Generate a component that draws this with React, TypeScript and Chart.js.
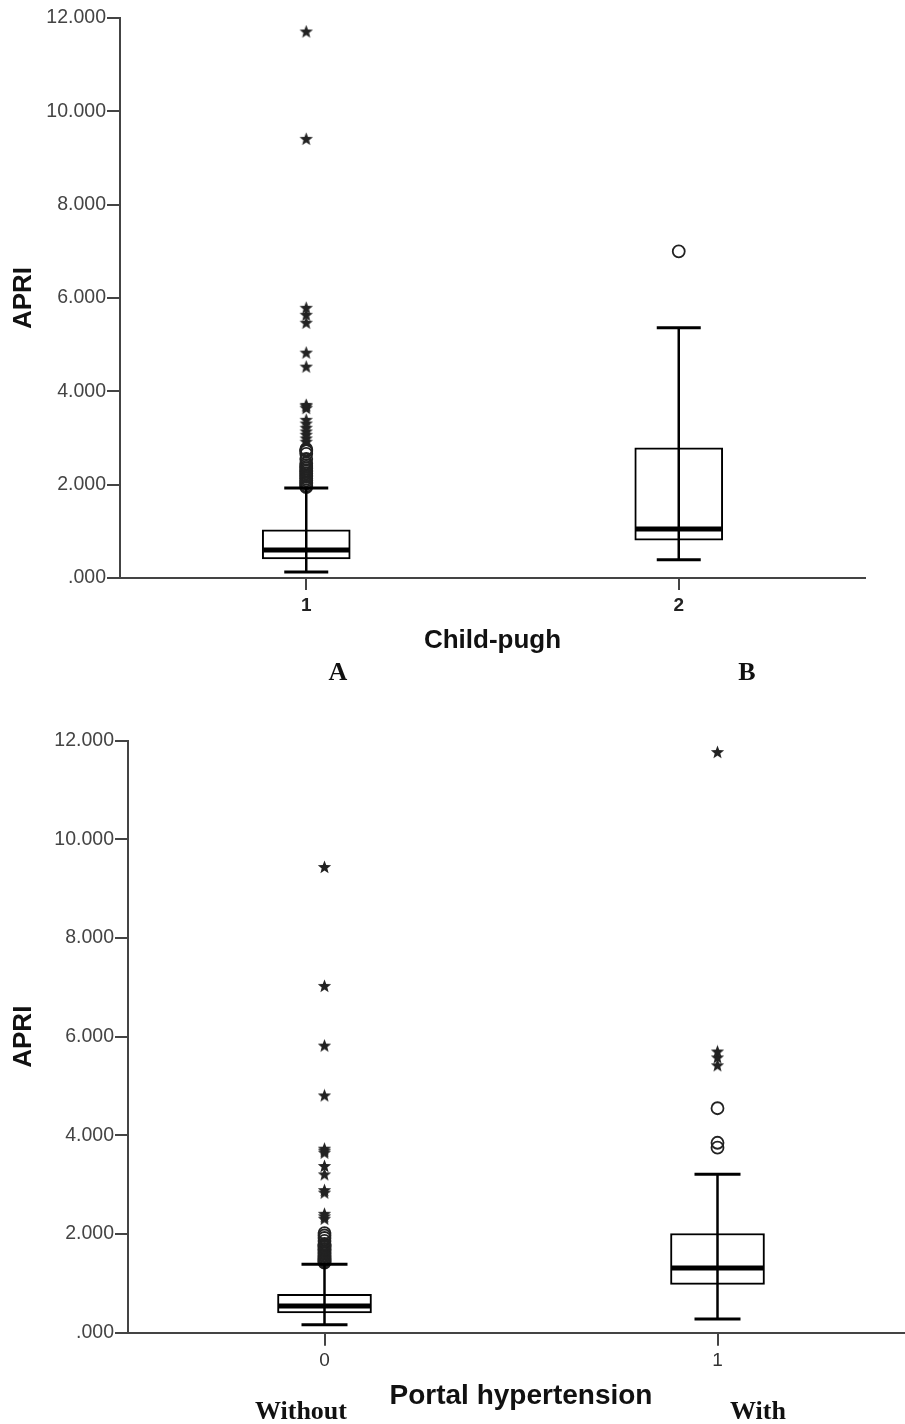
import React, { useEffect, useRef } from 'react';
import { Chart, registerables } from 'chart.js';

Chart.register(...registerables);

// ---------- Shared y axis ----------
const yTickValues = [0, 2, 4, 6, 8, 10, 12];
const yTickLabels = ['.000', '2.000', '4.000', '6.000', '8.000', '10.000', '12.000'];

// ---------- Chart A: Child-pugh ----------
const cpCategories = ['1', '2'];
const cpQ1 = [0.41, 0.81];
const cpMedian = [0.6, 1.05];
const cpQ3 = [1.03, 2.79];
const cpWhiskerLow = [0.13, 0.39];
const cpWhiskerHigh = [1.93, 5.36];
const cpOutliersCat1 = [1.95, 1.98, 2.02, 2.05, 2.09, 2.13, 2.17, 2.2, 2.24, 2.28, 2.31, 2.35, 2.38, 2.42, 2.46, 2.55, 2.66, 2.72, 2.74, 2.76];
const cpOutliersCat2 = [7.0];
const cpExtremesCat1 = [2.91, 2.98, 3.06, 3.13, 3.21, 3.3, 3.38, 3.63, 3.67, 3.7, 4.52, 4.82, 5.46, 5.63, 5.78, 9.4, 11.7];
const cpExtremesCat2: number[] = [];

// ---------- Chart B: Portal hypertension ----------
const phCategories = ['0', '1'];
const phQ1 = [0.4, 0.98];
const phMedian = [0.54, 1.31];
const phQ3 = [0.78, 2.01];
const phWhiskerLow = [0.16, 0.28];
const phWhiskerHigh = [1.39, 3.21];
const phOutliersCat0 = [1.42, 1.44, 1.46, 1.48, 1.5, 1.52, 1.55, 1.57, 1.6, 1.62, 1.65, 1.68, 1.7, 1.73, 1.75, 1.78, 1.8, 1.86, 1.92, 1.97, 2.02];
const phOutliersCat1 = [3.75, 3.85, 4.55];
const phExtremesCat0 = [2.3, 2.35, 2.4, 2.83, 2.88, 3.2, 3.37, 3.64, 3.68, 3.72, 4.8, 5.81, 7.02, 9.43];
const phExtremesCat1 = [5.41, 5.57, 5.69, 11.76];

const SANS = '"Liberation Sans", Arial, sans-serif';
const SERIF = '"Liberation Serif", "Times New Roman", serif';

function makeStar(size: number) {
  const c = document.createElement('canvas');
  c.width = size;
  c.height = size;
  const ctx = c.getContext('2d')!;
  const cx = size / 2;
  const cy = size / 2;
  const R = size / 2 - 0.5;
  const r = R * 0.42;
  ctx.beginPath();
  for (let i = 0; i < 10; i++) {
    const rad = i % 2 === 0 ? R : r;
    const a = -Math.PI / 2 + (i * Math.PI) / 5;
    ctx.lineTo(cx + rad * Math.cos(a), cy + rad * Math.sin(a));
  }
  ctx.closePath();
  ctx.fillStyle = '#222';
  ctx.fill();
  return c;
}

const boxWhiskerPlugin = {
  id: 'boxWhiskers',
  afterDatasetsDraw(chart: any, _args: any, opts: any) {
    const { ctx } = chart;
    const x = chart.scales.x;
    const y = chart.scales.y;
    ctx.save();
    ctx.strokeStyle = '#000';
    ctx.lineCap = 'butt';
    (opts.low as number[]).forEach((lo: number, i: number) => {
      const px = x.getPixelForValue(i);
      const yLo = y.getPixelForValue(lo);
      const yHi = y.getPixelForValue(opts.high[i]);
      ctx.lineWidth = opts.whiskerWidth;
      ctx.beginPath();
      ctx.moveTo(px, yLo);
      ctx.lineTo(px, yHi);
      ctx.stroke();
      ctx.lineWidth = opts.capLineWidth;
      [yLo, yHi].forEach((yy) => {
        ctx.beginPath();
        ctx.moveTo(px - opts.capHalf, yy);
        ctx.lineTo(px + opts.capHalf, yy);
        ctx.stroke();
      });
      const yM = y.getPixelForValue(opts.median[i]);
      ctx.lineWidth = opts.medianWidth;
      ctx.beginPath();
      ctx.moveTo(px - opts.boxHalf, yM);
      ctx.lineTo(px + opts.boxHalf, yM);
      ctx.stroke();
    });
    ctx.restore();
  },
};

type BoxSpec = {
  canvas: HTMLCanvasElement;
  width: number;
  height: number;
  categories: string[];
  q1: number[];
  median: number[];
  q3: number[];
  low: number[];
  high: number[];
  outliers: number[][];
  extremes: number[][];
  chartLeft: number;
  chartRight: number;
  chartTop: number;
  chartBottom: number;
  xAxisHeight: number;
  boxWidth: number;
  capHalf: number;
  xTitle: string;
  xTitleSize: number;
  xTickBold: boolean;
  xTickLength: number;
  star: HTMLCanvasElement;
};

function buildChart(s: BoxSpec) {
  const outlierPts: { x: string; y: number }[] = [];
  s.outliers.forEach((arr, i) => arr.forEach((v) => outlierPts.push({ x: s.categories[i], y: v })));
  const extremePts: { x: string; y: number }[] = [];
  s.extremes.forEach((arr, i) => arr.forEach((v) => extremePts.push({ x: s.categories[i], y: v })));

  return new Chart(s.canvas, {
    type: 'bar',
    data: {
      labels: s.categories,
      datasets: [
        {
          type: 'bar',
          data: s.q1.map((v, i) => [v, s.q3[i]]) as any,
          backgroundColor: '#ffffff',
          borderColor: '#000000',
          borderWidth: 2,
          borderSkipped: false,
          barThickness: s.boxWidth,
          grouped: false,
          order: 3,
        } as any,
        {
          type: 'scatter',
          data: outlierPts as any,
          pointStyle: 'circle',
          pointRadius: 6,
          borderColor: '#222',
          borderWidth: 1.8,
          backgroundColor: 'rgba(255,255,255,0)',
          order: 1,
        } as any,
        {
          type: 'scatter',
          data: extremePts as any,
          pointStyle: s.star,
          pointRadius: 7,
          order: 0,
        } as any,
      ],
    },
    options: {
      animation: false,
      responsive: false,
      maintainAspectRatio: false,
      events: [],
      layout: {
        padding: {
          left: 0,
          top: s.chartTop,
          right: s.width - s.chartRight,
          bottom: s.height - s.chartBottom - s.xAxisHeight,
        },
      },
      plugins: {
        legend: { display: false },
        tooltip: { enabled: false },
        boxWhiskers: {
          low: s.low,
          high: s.high,
          median: s.median,
          whiskerWidth: 2.5,
          capLineWidth: 3,
          capHalf: s.capHalf,
          boxHalf: s.boxWidth / 2 - 1,
          medianWidth: 5,
        },
      } as any,
      scales: {
        x: {
          type: 'category',
          offset: true,
          grid: {
            display: true,
            offset: false,
            drawOnChartArea: false,
            drawTicks: true,
            tickLength: s.xTickLength,
            color: '#444',
            lineWidth: 2,
          },
          border: { display: true, color: '#444', width: 2 },
          ticks: {
            font: { family: SANS, size: 19, weight: s.xTickBold ? 'bold' : 'normal' },
            color: s.xTickBold ? '#222' : '#333',
            padding: 4,
          },
          title: {
            display: true,
            text: s.xTitle,
            font: { family: SANS, size: s.xTitleSize, weight: 'bold' },
            color: '#111',
            padding: { top: 0, bottom: 0 },
          },
          afterFit: (scale: any) => {
            scale.height = s.xAxisHeight;
          },
        },
        y: {
          type: 'linear',
          min: 0,
          max: 12,
          afterBuildTicks: (scale: any) => {
            scale.ticks = yTickValues.map((v) => ({ value: v }));
          },
          ticks: {
            callback: (v: any) => {
              const idx = yTickValues.indexOf(Number(v));
              return idx >= 0 ? yTickLabels[idx] : '';
            },
            font: { family: SANS, size: 19.5 },
            color: '#444',
            padding: 1,
          },
          grid: {
            drawOnChartArea: false,
            drawTicks: true,
            tickLength: 13,
            color: '#444',
            lineWidth: 2,
          },
          border: { display: true, color: '#444', width: 2 },
          title: {
            display: true,
            text: 'APRI',
            font: { family: SANS, size: 26, weight: 'bold' },
            color: '#111',
            padding: { top: 8, bottom: 0 },
          },
          afterFit: (scale: any) => {
            scale.width = s.chartLeft;
          },
        },
      },
    } as any,
    plugins: [boxWhiskerPlugin as any],
  });
}

const labelStyle = (x: number, y: number, size: number): React.CSSProperties => ({
  position: 'absolute',
  left: x,
  top: y - size / 2,
  transform: 'translateX(-50%)',
  fontFamily: SERIF,
  fontWeight: 'bold',
  fontSize: size,
  lineHeight: `${size}px`,
  color: '#111',
  whiteSpace: 'nowrap',
});

export default function App() {
  const topRef = useRef<HTMLCanvasElement>(null);
  const botRef = useRef<HTMLCanvasElement>(null);

  useEffect(() => {
    const star = makeStar(15);
    const c1 = buildChart({
      canvas: topRef.current!,
      width: 905,
      height: 700,
      categories: cpCategories,
      q1: cpQ1,
      median: cpMedian,
      q3: cpQ3,
      low: cpWhiskerLow,
      high: cpWhiskerHigh,
      outliers: [cpOutliersCat1, cpOutliersCat2],
      extremes: [cpExtremesCat1, cpExtremesCat2],
      chartLeft: 120,
      chartRight: 865,
      chartTop: 18,
      chartBottom: 578,
      xAxisHeight: 78,
      boxWidth: 88,
      capHalf: 22,
      xTitle: 'Child-pugh',
      xTitleSize: 26,
      xTickBold: true,
      xTickLength: 12,
      star,
    });
    const c2 = buildChart({
      canvas: botRef.current!,
      width: 930,
      height: 724,
      categories: phCategories,
      q1: phQ1,
      median: phMedian,
      q3: phQ3,
      low: phWhiskerLow,
      high: phWhiskerHigh,
      outliers: [phOutliersCat0, phOutliersCat1],
      extremes: [phExtremesCat0, phExtremesCat1],
      chartLeft: 128,
      chartRight: 914,
      chartTop: 40.7,
      chartBottom: 632.7,
      xAxisHeight: 80,
      boxWidth: 94,
      capHalf: 23,
      xTitle: 'Portal hypertension',
      xTitleSize: 28,
      xTickBold: false,
      xTickLength: 13,
      star,
    });
    return () => {
      c1.destroy();
      c2.destroy();
    };
  }, []);

  return (
    <div
      style={{
        position: 'absolute',
        left: 0,
        top: 0,
        width: 905,
        height: 1424,
        overflow: 'hidden',
        background: '#fff',
      }}
    >
      <canvas ref={topRef} width={905} height={700} style={{ position: 'absolute', left: 0, top: 0, width: 905, height: 700 }} />
      <canvas ref={botRef} width={930} height={724} style={{ position: 'absolute', left: 0, top: 700, width: 930, height: 724 }} />
      <div style={labelStyle(338, 672, 26)}>A</div>
      <div style={labelStyle(747, 672, 26)}>B</div>
      <div style={labelStyle(301, 1411, 26)}>Without</div>
      <div style={labelStyle(758, 1411, 26)}>With</div>
    </div>
  );
}
